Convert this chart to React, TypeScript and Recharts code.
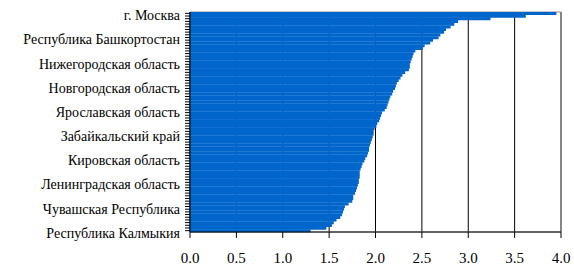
import React from "react";
import {
  Bar,
  BarChart,
  CartesianGrid,
  ReferenceArea,
  XAxis,
  YAxis,
} from "recharts";

// regions, top to bottom as drawn
const regions = [
  "г. Москва",
  "Ямало-Ненецкий АО",
  "Тюменская область",
  "г. Санкт-Петербург",
  "Ханты-Мансийский АО",
  "Чукотский АО",
  "Сахалинская область",
  "Республика Татарстан",
  "Магаданская область",
  "Республика Башкортостан",
  "Самарская область",
  "Свердловская область",
  "Красноярский край",
  "Пермский край",
  "Московская область",
  "Республика Саха (Якутия)",
  "Камчатский край",
  "Мурманская область",
  "Нижегородская область",
  "Хабаровский край",
  "Челябинская область",
  "Краснодарский край",
  "Иркутская область",
  "Кемеровская область",
  "Новосибирская область",
  "Республика Коми",
  "Белгородская область",
  "Новгородская область",
  "Ростовская область",
  "Липецкая область",
  "Омская область",
  "Приморский край",
  "Калининградская область",
  "Оренбургская область",
  "Вологодская область",
  "Томская область",
  "Ярославская область",
  "Воронежская область",
  "Волгоградская область",
  "Архангельская область",
  "Астраханская область",
  "Амурская область",
  "Республика Бурятия",
  "Калужская область",
  "Тульская область",
  "Забайкальский край",
  "Тверская область",
  "Саратовская область",
  "Рязанская область",
  "Удмуртская Республика",
  "Ульяновская область",
  "Республика Карелия",
  "Владимирская область",
  "Смоленская область",
  "Кировская область",
  "Ставропольский край",
  "Курская область",
  "Пензенская область",
  "Республика Дагестан",
  "Орловская область",
  "Брянская область",
  "Тамбовская область",
  "Костромская область",
  "Ленинградская область",
  "Алтайский край",
  "Курганская область",
  "Республика Хакасия",
  "Псковская область",
  "Ивановская область",
  "Республика Мордовия",
  "Еврейская АО",
  "Республика Марий Эл",
  "Чувашская Республика",
  "Республика Северная Осетия – Алания",
  "Кабардино-Балкарская Республика",
  "Республика Адыгея",
  "Карачаево-Черкесская Республика",
  "Республика Алтай",
  "Чеченская Республика",
  "Республика Тыва",
  "Республика Ингушетия",
  "Республика Калмыкия",
];

const values = [
  3.95, 3.62, 3.24, 2.89, 2.85, 2.81, 2.76, 2.74, 2.7, 2.68,
  2.62, 2.59, 2.53, 2.51, 2.43, 2.41, 2.4, 2.39, 2.38, 2.37,
  2.37, 2.36, 2.32, 2.29, 2.27, 2.25, 2.23, 2.22, 2.21, 2.19,
  2.18, 2.16, 2.15, 2.14, 2.13, 2.12, 2.1, 2.07, 2.06, 2.05,
  2.04, 2.02, 2.01, 1.99, 1.98, 1.98, 1.97, 1.96, 1.95, 1.94,
  1.93, 1.93, 1.92, 1.91, 1.89, 1.88, 1.86, 1.85, 1.84, 1.83,
  1.83, 1.83, 1.82, 1.82, 1.81, 1.8, 1.79, 1.78, 1.76, 1.76,
  1.75, 1.71, 1.67, 1.66, 1.65, 1.64, 1.62, 1.58, 1.55, 1.53,
  1.47, 1.3,
];

const xTicks = [0, 0.5, 1, 1.5, 2, 2.5, 3, 3.5, 4];
const labelStep = 9;

const data = regions.map((region, i) => ({ region, value: values[i] }));

const RegionTick = (props: any) => {
  const { x, y, payload, index } = props;
  if (index % labelStep !== 0) return <g />;
  return (
    <text
      x={x}
      y={y}
      dy={7}
      textAnchor="end"
      fontSize={14}
      fontFamily="serif"
      fill="#000"
    >
      {payload.value}
    </text>
  );
};

const AmountTick = (props: any) => {
  const { x, y, payload } = props;
  return (
    <text
      x={x}
      y={y}
      dy={11}
      textAnchor="middle"
      fontSize={15}
      fontFamily="Tinos"
      fill="#000"
    >
      {Number(payload.value).toFixed(1)}
    </text>
  );
};

export default function App() {
  return (
    <div style={{ position: "absolute", left: 0, top: 0, background: "#fff" }}>
      <BarChart
        width={574}
        height={271}
        data={data}
        layout="vertical"
        barCategoryGap={0}
        barGap={0}
        margin={{ top: 12, right: 13, bottom: 0, left: 0 }}
      >
        <CartesianGrid horizontal={false} stroke="#000" />
        <XAxis
          type="number"
          domain={[0, 4]}
          ticks={xTicks}
          height={39}
          tickSize={6}
          tickMargin={14}
          stroke="#000"
          tick={AmountTick}
        />
        <YAxis
          type="category"
          dataKey="region"
          width={190}
          interval={0}
          tickSize={5}
          tickMargin={5}
          stroke="#000"
          tick={RegionTick}
        />
        <Bar dataKey="value" fill="#0066CC" isAnimationActive={false} />
        <ReferenceArea x1={0} x2={4} fill="none" stroke="#8c8c8c" />
      </BarChart>
    </div>
  );
}
